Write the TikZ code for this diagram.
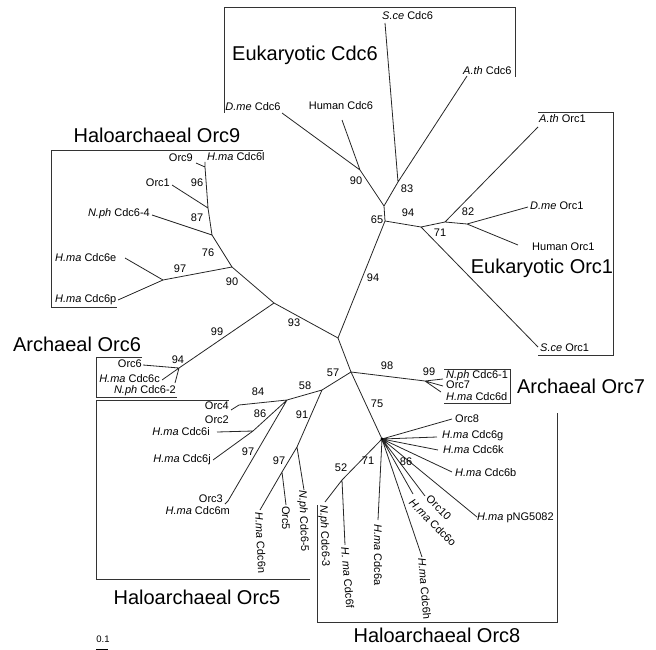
\documentclass[tikz,border=0pt]{standalone}
\usepackage{fontspec}
\setmainfont{Liberation Sans}
\begin{document}
\begin{tikzpicture}[x=1pt,y=-1pt,
  br/.style={line width=0.8pt,draw=black!85},
  bx/.style={line width=0.8pt,draw=black!80},
  lf/.style={font=\fontsize{11}{12}\selectfont,inner sep=0pt},
  bs/.style={font=\fontsize{11}{12}\selectfont,inner sep=0pt},
  big/.style={font=\fontsize{20}{22}\selectfont,inner sep=0pt}]
\useasboundingbox (0,0) rectangle (656,650);
% internal nodes
\coordinate (c0) at (338,338);
\coordinate (n93) at (274,303);
\coordinate (n90) at (232,267);
\coordinate (n76) at (212,235);
\coordinate (n87) at (208,208);
\coordinate (n96) at (205,167);
\coordinate (n97a) at (163,280);
\coordinate (n94a) at (179,368);
\coordinate (n57) at (351,372);
\coordinate (n58) at (322,390);
\coordinate (n84) at (287,400);
\coordinate (n86) at (253,431);
\coordinate (n91) at (297,447);
\coordinate (n97b) at (282,472);
\coordinate (n98) at (425,381);
\coordinate (star) at (382,439);
\coordinate (n52) at (342,480);
\coordinate (nB) at (385,221);
\coordinate (nA) at (384,206);
\coordinate (n90c) at (360,170);
\coordinate (n83) at (398,182);
\coordinate (nC) at (421,227);
\coordinate (nD) at (445,222);
\coordinate (nE) at (467,224);
% tips
\coordinate (tDmeCdc6) at (282,113);
\coordinate (tHumCdc6) at (342,120);
\coordinate (tSceCdc6) at (385,23);
\coordinate (tAthCdc6) at (467,76);
\coordinate (tAthOrc1) at (538,127);
\coordinate (tDmeOrc1) at (528,207);
\coordinate (tHumOrc1) at (518,245);
\coordinate (tSceOrc1) at (538,347);
\coordinate (tOrc9) at (196,163);
\coordinate (tCdc6l) at (205,162);
\coordinate (tOrc1a) at (172,185);
\coordinate (tNph4) at (152,215);
\coordinate (tCdc6e) at (125,258);
\coordinate (tCdc6p) at (118,300);
\coordinate (tOrc6) at (143,365);
\coordinate (tCdc6c) at (162,380);
\coordinate (tNph2) at (175,383);
\coordinate (kOrc4) at (239,405);
\coordinate (tOrc4) at (231,410);
\coordinate (tCdc6i) at (217,432);
\coordinate (tCdc6j) at (213,460);
\coordinate (tOrc3) at (228,501);
\coordinate (tCdc6m) at (225,504);
\coordinate (tCdc6n) at (260,510);
\coordinate (tOrc5) at (286,505);
\coordinate (tNph5) at (304,490);
\coordinate (tNph1) at (443,379);
\coordinate (tOrc7) at (443,386);
\coordinate (tCdc6d) at (441,392);
\coordinate (tOrc8) at (452,419);
\coordinate (tCdc6g) at (437,437);
\coordinate (tCdc6k) at (438,450);
\coordinate (tCdc6b) at (452,472);
\coordinate (tPNG) at (477,517);
\coordinate (tOrc10) at (425,496);
\coordinate (tCdc6o) at (413,494);
\coordinate (tCdc6h) at (422,557);
\coordinate (tCdc6a) at (378,520);
\coordinate (tNph3) at (325,502);
\coordinate (tCdc6f) at (345,545);
% branches
\draw[br] (c0) -- (nB) (nB) -- (nA) (nA) -- (n90c) (n90c) -- (tDmeCdc6) (n90c) -- (tHumCdc6)
  (nA) -- (n83) (n83) -- (tSceCdc6) (n83) -- (tAthCdc6)
  (nB) -- (nC) (nC) -- (nD) (nD) -- (nE) (nD) -- (tAthOrc1) (nE) -- (tDmeOrc1) (nE) -- (tHumOrc1) (nC) -- (tSceOrc1);
\draw[br] (c0) -- (n93) (n93) -- (n90) (n90) -- (n76) (n76) -- (n87) (n87) -- (n96)
  (n96) -- (tOrc9) (n96) -- (tCdc6l) (n87) -- (tOrc1a) (n76) -- (tNph4)
  (n90) -- (n97a) (n97a) -- (tCdc6e) (n97a) -- (tCdc6p);
\draw[br] (n93) -- (n94a) (n94a) -- (tOrc6) (n94a) -- (tCdc6c) (n94a) -- (tNph2);
\draw[br] (c0) -- (n57) (n57) -- (n58) (n58) -- (n84) (n84) -- (kOrc4) -- (tOrc4)
  (n84) -- (n86) (n86) -- (tCdc6i) (n86) -- (tCdc6j) (n84) -- (tOrc3) (tOrc3) -- (tCdc6m)
  (n58) -- (n91) (n91) -- (n97b) (n97b) -- (tCdc6n) (n97b) -- (tOrc5) (n91) -- (tNph5);
\draw[br] (n57) -- (n98) (n98) -- (tNph1) (n98) -- (tOrc7) (n98) -- (tCdc6d);
\draw[br] (n57) -- (star) (star) -- (tOrc8) (star) -- (tCdc6g) (star) -- (tCdc6k) (star) -- (tCdc6b)
  (star) -- (tPNG) (star) -- (tOrc10) (star) -- (tCdc6o) (star) -- (tCdc6h) (star) -- (tCdc6a)
  (star) -- (n52) (n52) -- (tNph3) (n52) -- (tCdc6f);
\fill[black] (star) circle (1.6);
% boxes
\draw[bx] (224,113) -- (224,7) -- (515,7) -- (515,77);
\draw[bx] (538,112) -- (613,112) -- (613,355) -- (538,355);
\draw[bx] (263,150) -- (51,150) -- (51,307) -- (117,307);
\draw[bx] (142,357) -- (96,357) -- (96,397) -- (177,397);
\draw[bx] (229,400) -- (96,400) -- (96,579) -- (310,579);
\draw[bx] (444,369) -- (510,369) -- (510,403) -- (444,403);
\draw[bx] (317,505) -- (317,622) -- (557,622) -- (557,413);
% big labels
\node[big] (gCdc6) at (305,55) {Eukaryotic Cdc6};
\node[big] (gOrc9) at (157,135) {Haloarchaeal Orc9};
\node[big] (gOrc1) at (542,268) {Eukaryotic Orc1};
\node[big] (gOrc6) at (77,344) {Archaeal Orc6};
\node[big] (gOrc7) at (581,386) {Archaeal Orc7};
\node[big] (gOrc8) at (437,635) {Haloarchaeal Orc8};
\node[big] (gOrc5) at (197,597) {Haloarchaeal Orc5};
% leaf labels
\node[lf] (lDmeCdc6) at (253,107) {\textit{D.me} Cdc6};
\node[lf] (lHumCdc6) at (341,106) {Human Cdc6};
\node[lf,anchor=west] (lSceCdc6) at (382,16) {\textit{S.ce} Cdc6};
\node[lf,anchor=west] (lAthCdc6) at (463,71) {\textit{A.th} Cdc6};
\node[lf,anchor=west] (lAthOrc1) at (539,119) {\textit{A.th} Orc1};
\node[lf,anchor=west] (lDmeOrc1) at (530,206) {\textit{D.me} Orc1};
\node[lf,anchor=west] (lHumOrc1) at (532,247) {Human Orc1};
\node[lf,anchor=west] (lSceOrc1) at (540,348) {\textit{S.ce} Orc1};
\node[lf,anchor=east] (lOrc9) at (193,158) {Orc9};
\node[lf,anchor=west] (lCdc6l) at (207,157) {\textit{H.ma} Cdc6l};
\node[lf,anchor=east] (lOrc1a) at (170,183) {Orc1};
\node[lf,anchor=east] (lNph4) at (150,214) {\textit{N.ph} Cdc6-4};
\node[lf,anchor=west] (lCdc6e) at (55,258) {\textit{H.ma} Cdc6e};
\node[lf,anchor=west] (lCdc6p) at (55,300) {\textit{H.ma} Cdc6p};
\node[lf,anchor=east] (lOrc6) at (142,364) {Orc6};
\node[lf,anchor=east] (lCdc6c) at (160,379) {\textit{H.ma} Cdc6c};
\node[lf,anchor=east] (lNph2) at (176,391) {\textit{N.ph} Cdc6-2};
\node[lf,anchor=east] (lOrc4) at (229,406) {Orc4};
\node[lf,anchor=east] (lOrc2) at (229,420) {Orc2};
\node[lf,anchor=east] (lCdc6i) at (210,432) {\textit{H.ma} Cdc6i};
\node[lf,anchor=east] (lCdc6j) at (211,460) {\textit{H.ma} Cdc6j};
\node[lf,anchor=east] (lOrc3) at (223,499) {Orc3};
\node[lf,anchor=east] (lCdc6m) at (230,511) {\textit{H.ma} Cdc6m};
\node[lf,anchor=west] (lNph1) at (446,376) {\textit{N.ph} Cdc6-1};
\node[lf,anchor=west] (lOrc7) at (446,385) {Orc7};
\node[lf,anchor=west] (lCdc6d) at (446,397) {\textit{H.ma} Cdc6d};
\node[lf,anchor=west] (lOrc8) at (455,419) {Orc8};
\node[lf,anchor=west] (lCdc6g) at (442,436) {\textit{H.ma} Cdc6g};
\node[lf,anchor=west] (lCdc6k) at (443,450) {\textit{H.ma} Cdc6k};
\node[lf,anchor=west] (lCdc6b) at (455,473) {\textit{H.ma} Cdc6b};
\node[lf,anchor=west] (lPNG) at (477,518) {\textit{H.ma} pNG5082};
\node[lf,anchor=west,rotate=-87] (lCdc6n) at (259,512) {\textit{H.ma} Cdc6n};
\node[lf,anchor=west,rotate=-90] (lOrc5) at (286,506) {Orc5};
\node[lf,anchor=west,rotate=-88] (lNph5) at (302,490) {\textit{N.ph} Cdc6-5};
\node[lf,anchor=west,rotate=-88] (lNph3) at (323,505) {\textit{N.ph} Cdc6-3};
\node[lf,anchor=west,rotate=-85] (lCdc6f) at (345,547) {\textit{H. ma} Cdc6f};
\node[lf,anchor=west,rotate=-90] (lCdc6a) at (378,524) {\textit{H.ma} Cdc6a};
\node[lf,anchor=west,rotate=-85] (lCdc6h) at (422,558) {\textit{H.ma} Cdc6h};
\node[lf,anchor=west,rotate=-45] (lOrc10) at (428,497) {Orc10};
\node[lf,anchor=west,rotate=-45] (lCdc6o) at (411,501) {\textit{H.ma} Cdc6o};
% bootstrap values
\node[bs] (b90c) at (356,181) {90};
\node[bs] (b83) at (407,189) {83};
\node[bs] (b65) at (377,220) {65};
\node[bs] (b94o) at (408,213) {94};
\node[bs] (b82) at (468,212) {82};
\node[bs] (b71o) at (440,233) {71};
\node[bs] (b94c) at (373,278) {94};
\node[bs] (b96) at (197,183) {96};
\node[bs] (b87) at (197,218) {87};
\node[bs] (b76) at (208,253) {76};
\node[bs] (b97a) at (180,269) {97};
\node[bs] (b90a) at (232,282) {90};
\node[bs] (b93) at (294,323) {93};
\node[bs] (b99a) at (217,332) {99};
\node[bs] (b94a) at (178,360) {94};
\node[bs] (b57) at (333,373) {57};
\node[bs] (b58) at (305,386) {58};
\node[bs] (b84) at (258,392) {84};
\node[bs] (b86a) at (260,414) {86};
\node[bs] (b91) at (302,415) {91};
\node[bs] (b97b) at (248,452) {97};
\node[bs] (b97c) at (279,461) {97};
\node[bs] (b98) at (387,366) {98};
\node[bs] (b99b) at (429,372) {99};
\node[bs] (b75) at (377,404) {75};
\node[bs] (b71s) at (368,461) {71};
\node[bs] (b52) at (341,468) {52};
\node[bs] (b86s) at (406,462) {86};
% scale bar
\node[font=\fontsize{9.5}{10}\selectfont,inner sep=0pt] (sc) at (103,639) {0.1};
\coordinate (s1) at (96,649);
\coordinate (s2) at (108,649);
\draw[line width=1pt] (s1) -- (s2);
\end{tikzpicture}
\end{document}
